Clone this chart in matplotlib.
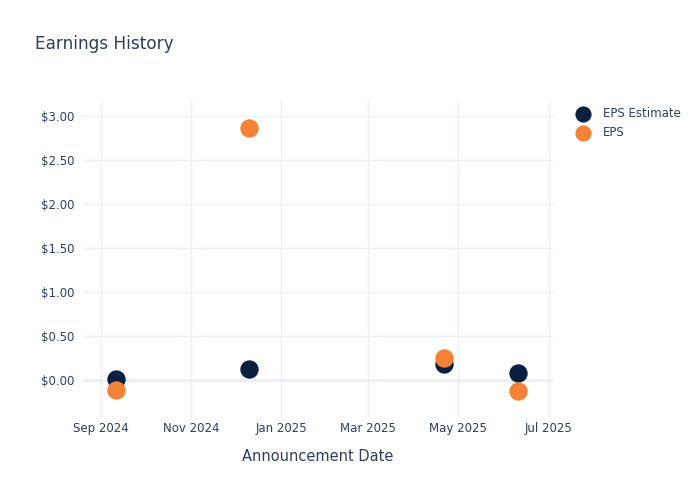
import matplotlib
matplotlib.use("Agg")
import matplotlib.pyplot as plt
import matplotlib.dates as mdates
import matplotlib.ticker as mticker
import numpy as np

# data
dates = np.array(["2024-09-11", "2024-12-10", "2025-04-21", "2025-06-10"], dtype="datetime64[D]")
eps_estimate = [0.01, 0.125, 0.18, 0.08]
eps_actual = [-0.11, 2.86, 0.25, -0.12]

# style
text_c = "#2a3f5f"
grid_c = "#EBF0F8"
est_c = "#0B1F42"
eps_c = "#F58134"

fig = plt.figure(figsize=(7, 5), dpi=100)
ax = fig.add_axes([83 / 700, 82 / 500, 470 / 700, 318 / 500])

ax.scatter(dates, eps_estimate, s=175, color=est_c, label="EPS Estimate", zorder=3, linewidths=0)
ax.scatter(dates, eps_actual, s=175, color=eps_c, label="EPS", zorder=4, linewidths=0)

ax.set_xlim(np.datetime64("2024-08-20"), np.datetime64("2025-07-04"))
ax.set_ylim(-0.43, 3.18)

ax.xaxis.set_major_locator(mdates.MonthLocator(bymonth=[1, 3, 5, 7, 9, 11]))
ax.xaxis.set_major_formatter(mdates.DateFormatter("%b %Y"))
ax.yaxis.set_major_locator(mticker.MultipleLocator(0.5))
ax.yaxis.set_major_formatter(mticker.FuncFormatter(lambda v, p: f"${v:.2f}"))

ax.grid(True, color=grid_c, linewidth=1, zorder=0)
ax.axhline(0, color=grid_c, linewidth=2, zorder=1)
for s in ax.spines.values():
    s.set_visible(False)
ax.tick_params(length=0, labelsize=8.5, labelcolor=text_c, pad=6)
ax.tick_params(axis="x", pad=3)

ax.set_xlabel("Announcement Date", fontsize=10.5, color=text_c, labelpad=10)
fig.text(35 / 700, 1 - 44 / 500, "Earnings History", fontsize=12.2, color=text_c, va="center")

fig.legend(loc="upper left", bbox_to_anchor=(566 / 700, 1 - 102 / 500), frameon=False,
           fontsize=8.5, labelcolor=text_c, handletextpad=0.75, labelspacing=0.55,
           borderaxespad=0, markerscale=0.88)

fig.savefig("out.png", dpi=100, facecolor="white")
